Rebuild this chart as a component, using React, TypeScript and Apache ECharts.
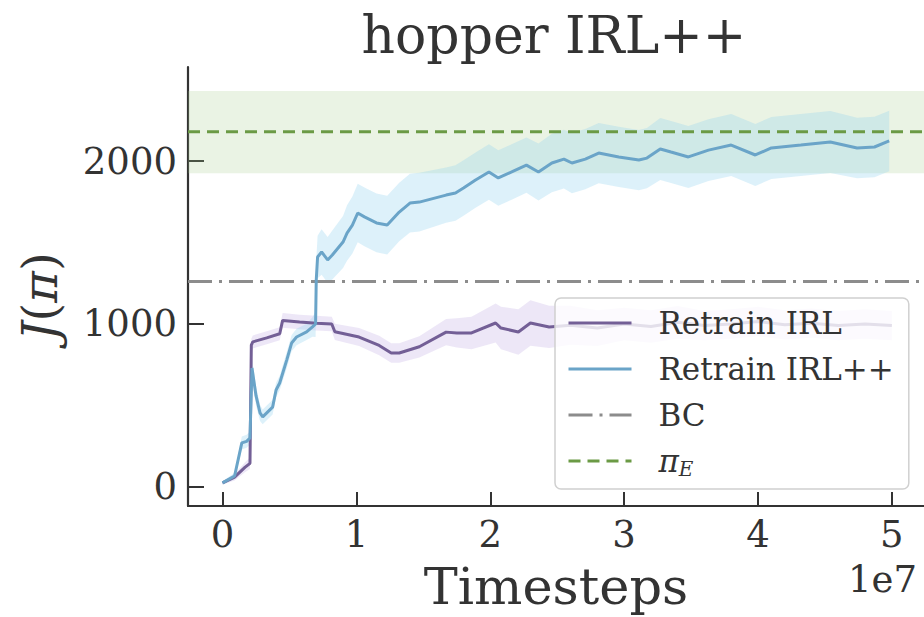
import React, { useEffect, useRef } from "react";
import * as echarts from "echarts";

// Timesteps in units of 1e7
const irlT = [0, 0.09, 0.167, 0.205, 0.215, 0.226, 0.33, 0.427, 0.449, 0.576, 0.7, 0.816, 0.839, 1.02, 1.17, 1.26, 1.32, 1.47, 1.67, 1.75, 1.86, 2.04, 2.08, 2.21, 2.3, 2.44, 2.6, 2.8, 3.0, 3.2, 3.4, 3.6, 3.8, 4.0, 4.2, 4.4, 4.6, 4.8, 5.0];
const irlMean = [25, 60, 120, 145, 870, 890, 915, 940, 1022, 1012, 1005, 1000, 952, 920, 868, 822, 822, 860, 950, 945, 945, 1006, 975, 951, 1006, 982, 992, 975, 1000, 985, 1010, 990, 1000, 1015, 995, 1005, 990, 1000, 990];
const irlStd = [10, 20, 30, 35, 40, 40, 40, 40, 45, 45, 45, 45, 50, 55, 60, 60, 60, 65, 80, 90, 100, 120, 130, 140, 140, 130, 120, 110, 100, 100, 100, 90, 90, 90, 90, 90, 90, 90, 90];

const ppT = [0, 0.09, 0.144, 0.18, 0.205, 0.22, 0.25, 0.28, 0.3, 0.374, 0.4, 0.427, 0.48, 0.516, 0.553, 0.628, 0.672, 0.695, 0.7, 0.71, 0.74, 0.785, 0.82, 0.9, 0.93, 0.97, 1.01, 1.06, 1.15, 1.23, 1.32, 1.4, 1.47, 1.67, 1.74, 1.8, 1.89, 1.99, 2.06, 2.16, 2.27, 2.36, 2.46, 2.55, 2.61, 2.71, 2.81, 2.96, 3.11, 3.17, 3.27, 3.35, 3.48, 3.63, 3.8, 3.98, 4.1, 4.32, 4.54, 4.74, 4.87, 4.98];
const ppMean = [25, 67, 270, 280, 300, 730, 560, 454, 430, 490, 595, 638, 780, 883, 920, 951, 982, 1000, 1270, 1411, 1442, 1393, 1423, 1503, 1558, 1607, 1681, 1657, 1620, 1607, 1687, 1742, 1748, 1791, 1804, 1834, 1883, 1933, 1896, 1933, 1975, 1933, 1988, 2012, 1988, 2012, 2049, 2025, 2006, 2018, 2074, 2055, 2025, 2067, 2098, 2037, 2080, 2098, 2117, 2080, 2086, 2123];
const ppStd = [10, 20, 40, 40, 40, 60, 60, 50, 45, 45, 45, 45, 50, 50, 50, 50, 60, 80, 120, 130, 140, 140, 150, 160, 170, 175, 180, 180, 180, 180, 180, 180, 180, 170, 170, 170, 170, 170, 170, 170, 170, 175, 180, 180, 185, 185, 185, 185, 185, 185, 190, 190, 190, 190, 190, 190, 190, 190, 190, 185, 185, 185];

const bcValue = 1260;
const expertValue = 2180;
const expertLow = 1925;
const expertHigh = 2430;

const xTicks = [0, 1, 2, 3, 4, 5];
const yTicks = [0, 1000, 2000];

const X_MIN = -0.258;
const X_MAX = 5.24;
const Y_MIN = -117;
const Y_MAX = 2577;

const FONT = "DejaVu Serif";
const TEXT = "#333333";

function bandSeries(name: string, ts: number[], lower: number[], upper: number[], fill: string, z: number) {
  return {
    name,
    type: "custom",
    coordinateSystem: "cartesian2d",
    silent: true,
    clip: true,
    z,
    data: [[ts[0], lower[0]]],
    encode: { x: 0, y: 1 },
    renderItem: (_params: any, api: any) => {
      const pts: number[][] = [];
      for (let i = 0; i < ts.length; i++) pts.push(api.coord([ts[i], upper[i]]));
      for (let i = ts.length - 1; i >= 0; i--) pts.push(api.coord([ts[i], lower[i]]));
      return {
        type: "polygon",
        shape: { points: pts },
        style: { fill, stroke: "none" },
      };
    },
  };
}

export default function App() {
  const ref = useRef<HTMLDivElement>(null);

  useEffect(() => {
    if (!ref.current) return;
    const chart = echarts.init(ref.current, undefined, { renderer: "svg" });

    const irlLow = irlMean.map((m, i) => m - irlStd[i]);
    const irlHigh = irlMean.map((m, i) => m + irlStd[i]);
    const ppLow = ppMean.map((m, i) => m - ppStd[i]);
    const ppHigh = ppMean.map((m, i) => m + ppStd[i]);

    const option: any = {
      animation: false,
      backgroundColor: "#ffffff",
      grid: { left: 188, top: 67, width: 738, height: 439, containLabel: false },
      xAxis: {
        type: "value",
        min: X_MIN,
        max: X_MAX,
        minInterval: 1,
        maxInterval: 1,
        name: "Timesteps",
        nameLocation: "middle",
        nameGap: 55,
        nameTextStyle: { fontFamily: FONT, fontSize: 51, color: TEXT, lineHeight: 51 },
        axisLine: { show: true, onZero: false, lineStyle: { color: "#333", width: 2.2 } },
        axisTick: { show: true, inside: true, length: 14, customValues: xTicks, lineStyle: { color: "#333", width: 2 } },
        axisLabel: {
          customValues: xTicks,
          margin: 10,
          fontFamily: FONT,
          fontSize: 37,
          lineHeight: 37,
          color: TEXT,
          formatter: (v: number) => (Number.isInteger(v) ? String(v) : ""),
        },
        splitLine: { show: false },
      },
      yAxis: {
        type: "value",
        min: Y_MIN,
        max: Y_MAX,
        minInterval: 1000,
        maxInterval: 1000,
        name: "{i|J}{n|(}{i|π}{n|)}",
        nameLocation: "middle",
        nameGap: 124,
        nameTextStyle: {
          fontFamily: FONT,
          fontSize: 48,
          color: TEXT,
          padding: [0, 20, 0, 0],
          rich: {
            i: { fontFamily: FONT, fontSize: 48, fontStyle: "italic", color: TEXT },
            n: { fontFamily: FONT, fontSize: 48, color: TEXT },
          },
        },
        axisLine: { show: true, onZero: false, lineStyle: { color: "#333", width: 2.2 } },
        axisTick: { show: true, inside: true, length: 16, customValues: yTicks, lineStyle: { color: "#333", width: 2 } },
        axisLabel: {
          customValues: yTicks,
          margin: 11,
          fontFamily: FONT,
          fontSize: 37,
          lineHeight: 37,
          color: TEXT,
          formatter: (v: number) => (yTicks.indexOf(v) >= 0 ? String(v) : ""),
        },
        splitLine: { show: false },
      },
      legend: {
        show: true,
        orient: "vertical",
        left: 555,
        top: 298,
        z: 10,
        padding: [7, 15, 10, 12],
        itemWidth: 63,
        itemHeight: 36,
        itemGap: 10,
        backgroundColor: "rgba(255,255,255,0.8)",
        borderColor: "#d0d0d0",
        borderWidth: 1.5,
        borderRadius: 6,
        selectedMode: false,
        itemStyle: { opacity: 0 },
        lineStyle: { width: 3 },
        data: ["Retrain IRL", "Retrain IRL++", "BC", "πE"],
        formatter: (name: string) => (name === "πE" ? "{i|π}{s|E}" : name),
        textStyle: {
          fontFamily: FONT,
          fontSize: 31,
          lineHeight: 36,
          color: TEXT,
          padding: [0, 0, 0, 22],
          rich: {
            i: { fontFamily: FONT, fontSize: 31, fontStyle: "italic", color: TEXT, lineHeight: 36 },
            s: { fontFamily: FONT, fontSize: 20, fontStyle: "italic", color: TEXT, lineHeight: 36, padding: [16, 0, 0, 0] },
          },
        },
      },
      graphic: [
        {
          type: "text",
          x: 554,
          y: 35,
          silent: true,
          style: {
            text: "hopper IRL++",
            fontFamily: FONT,
            fontSize: 52,
            fill: TEXT,
            textAlign: "center",
            textVerticalAlign: "middle",
          },
        },
        {
          type: "text",
          x: 917,
          y: 579,
          silent: true,
          style: {
            text: "1e7",
            fontFamily: FONT,
            fontSize: 37,
            fill: TEXT,
            textAlign: "right",
            textVerticalAlign: "middle",
          },
        },
      ],
      series: [
        bandSeries("expertBand", [X_MIN, X_MAX], [expertLow, expertLow], [expertHigh, expertHigh], "rgba(160,200,130,0.22)", 1),
        bandSeries("irlBand", irlT, irlLow, irlHigh, "rgba(185,160,225,0.25)", 2),
        bandSeries("ppBand", ppT, ppLow, ppHigh, "rgba(150,210,240,0.32)", 2),
        {
          name: "BC",
          type: "line",
          data: [[X_MIN, bcValue], [X_MAX, bcValue]],
          symbol: "none",
          silent: true,
          z: 3,
          lineStyle: { color: "#8c8c8c", width: 3, type: [24, 7, 3, 7] },
          itemStyle: { color: "#8c8c8c" },
        },
        {
          name: "πE",
          type: "line",
          data: [[X_MIN, expertValue], [X_MAX, expertValue]],
          symbol: "none",
          silent: true,
          z: 3,
          lineStyle: { color: "#6b9a45", width: 3, type: [12, 7] },
          itemStyle: { color: "#6b9a45" },
        },
        {
          name: "Retrain IRL",
          type: "line",
          data: irlT.map((t, i) => [t, irlMean[i]]),
          symbol: "none",
          silent: true,
          z: 3,
          lineStyle: { color: "#735f96", width: 3 },
          itemStyle: { color: "#735f96" },
        },
        {
          name: "Retrain IRL++",
          type: "line",
          data: ppT.map((t, i) => [t, ppMean[i]]),
          symbol: "none",
          silent: true,
          z: 3,
          lineStyle: { color: "#6aa4c8", width: 3 },
          itemStyle: { color: "#6aa4c8" },
        },
      ],
    };

    chart.setOption(option);
    return () => chart.dispose();
  }, []);

  return (
    <div
      ref={ref}
      style={{ position: "absolute", left: 0, top: 0, width: 924, height: 617, background: "#fff" }}
    />
  );
}
